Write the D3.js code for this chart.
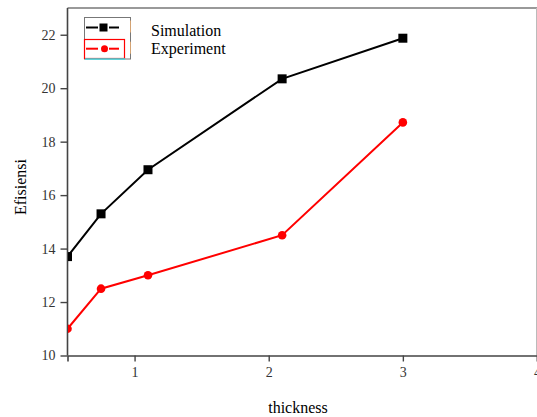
<!DOCTYPE html>
<html>
<head>
<meta charset="utf-8">
<script src="https://cdn.jsdelivr.net/npm/d3@7"></script>
<style>
  html, body { margin: 0; padding: 0; background: #fff; }
  svg { display: block; }
  text { font-family: "Liberation Serif", "Times New Roman", serif; }
</style>
</head>
<body>
<svg id="chart" width="537" height="417"></svg>
<script>
// ---- data ----
const thickness = [0.5, 0.75, 1.1, 2.1, 3];
const simulation = [13.7, 15.3, 16.95, 20.35, 21.87];
const experiment = [11.0, 12.5, 13.0, 14.5, 18.72];
const seriesNames = ["Simulation", "Experiment"];
const xTicks = [1, 2, 3, 4];
const yTicks = [10, 12, 14, 16, 18, 20, 22];
const xTitle = "thickness";
const yTitle = "Efisiensi";

const svg = d3.select("#chart");
const x = d3.scaleLinear().domain([0.5, 4]).range([67.5, 537]);
const y = d3.scaleLinear().domain([10, 23]).range([355.5, 8]);

// clip region for plot
svg.append("defs").append("clipPath").attr("id", "plotclip")
  .append("rect").attr("x", 68).attr("y", 8).attr("width", 470).attr("height", 348);

// frame top & right
svg.append("line").attr("x1", 67.5).attr("x2", 537).attr("y1", 8).attr("y2", 8)
  .attr("stroke", "#777").attr("stroke-width", 1.5);
svg.append("line").attr("x1", 536.5).attr("x2", 536.5).attr("y1", 8).attr("y2", 355.5)
  .attr("stroke", "#bbb").attr("stroke-width", 1);

// axes
const gx = svg.append("g").attr("transform", "translate(0,355.5)")
  .call(d3.axisBottom(x).tickValues(xTicks).tickSize(6).tickPadding(6).tickFormat(d3.format("d")));
const gy = svg.append("g").attr("transform", "translate(67.5,0)")
  .call(d3.axisLeft(y).tickValues(yTicks).tickSize(7).tickPadding(5).tickFormat(d3.format("d")));
[gx, gy].forEach(g => {
  g.select(".domain").attr("stroke", "#444").attr("stroke-width", 1.6);
  g.selectAll(".tick line").attr("stroke", "#444").attr("stroke-width", 1.4);
  g.selectAll(".tick text").attr("fill", "#333")
    .style("font-family", '"Liberation Serif", "Times New Roman", serif').style("font-size", "14px");
});
gy.select(".domain").attr("d", `M-0,${y(23)}V${y(10)}`);

// series
const series = [
  { name: seriesNames[0], values: simulation, color: "#000000", marker: "square" },
  { name: seriesNames[1], values: experiment, color: "#ff0000", marker: "circle" }
];
const line = d3.line().x(d => x(d[0])).y(d => y(d[1]));
const plot = svg.append("g").attr("clip-path", "url(#plotclip)");
series.forEach(s => {
  const pts = thickness.map((t, i) => [t, s.values[i]]);
  plot.append("path").attr("d", line(pts)).attr("fill", "none")
    .attr("stroke", s.color).attr("stroke-width", 2);
  if (s.marker === "square") {
    plot.selectAll(null).data(pts).enter().append("rect")
      .attr("x", d => x(d[0]) - 4.5).attr("y", d => y(d[1]) - 4.5)
      .attr("width", 9).attr("height", 9).attr("fill", s.color);
  } else {
    plot.selectAll(null).data(pts).enter().append("circle")
      .attr("cx", d => x(d[0])).attr("cy", d => y(d[1])).attr("r", 4.3).attr("fill", s.color);
  }
});

// legend
const lg = svg.append("g");
lg.append("rect").attr("x", 84.5).attr("y", 17.5).attr("width", 46).attr("height", 41.5)
  .attr("fill", "#fff").attr("stroke", "#777").attr("stroke-width", 1);
// row 2 red box
lg.append("rect").attr("x", 84.5).attr("y", 39.5).attr("width", 40).attr("height", 19)
  .attr("fill", "none").attr("stroke", series[1].color).attr("stroke-width", 1.2);
lg.append("line").attr("x1", 85).attr("x2", 125).attr("y1", 59).attr("y2", 59)
  .attr("stroke", "#40e0e8").attr("stroke-width", 1.5);
const rowsY = [27.5, 48.7];
series.forEach((s, i) => {
  const yy = rowsY[i];
  lg.append("line").attr("x1", 86).attr("x2", 98).attr("y1", yy).attr("y2", yy)
    .attr("stroke", s.color).attr("stroke-width", 2);
  lg.append("line").attr("x1", 109).attr("x2", 119).attr("y1", yy).attr("y2", yy)
    .attr("stroke", s.color).attr("stroke-width", 2);
  if (s.marker === "square") {
    lg.append("rect").attr("x", 99.5).attr("y", yy - 4).attr("width", 8).attr("height", 8).attr("fill", s.color);
  } else {
    lg.append("circle").attr("cx", 104.5).attr("cy", yy).attr("r", 3.5).attr("fill", s.color);
  }
  lg.append("line").attr("x1", 130.5).attr("x2", 130.5).attr("y1", yy - 7).attr("y2", yy + 5)
    .attr("stroke", "#d4a373").attr("stroke-width", 1);
  lg.append("text").attr("x", 151).attr("y", [36, 53.5][i]).attr("font-size", 16)
    .attr("fill", "#000").text(s.name);
});

// axis titles
svg.append("text").attr("x", 298).attr("y", 413).attr("text-anchor", "middle")
  .attr("font-size", 16).attr("fill", "#000").text(xTitle);
svg.append("text").attr("transform", "translate(26,187) rotate(-90)").attr("text-anchor", "middle")
  .attr("font-size", 16).attr("fill", "#000").text(yTitle);
</script>
</body>
</html>
